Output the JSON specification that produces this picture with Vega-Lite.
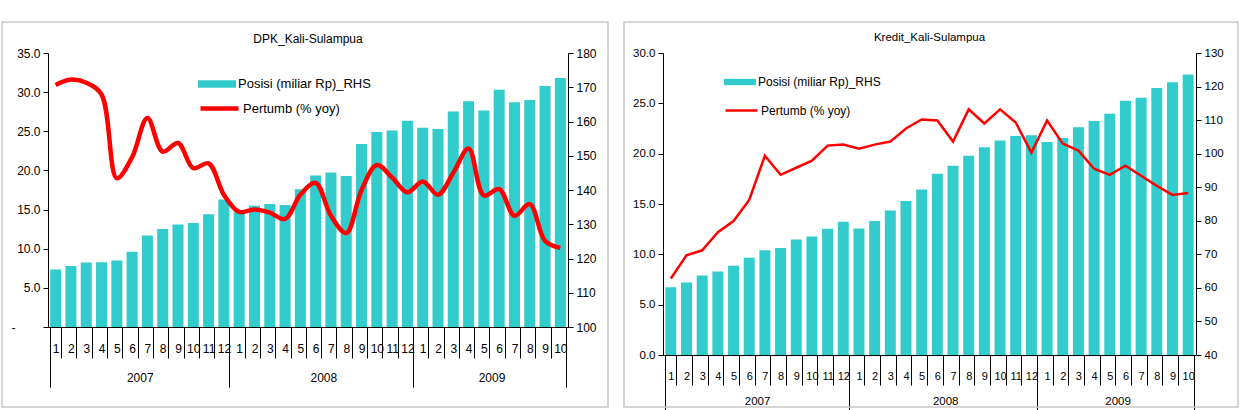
{
  "$schema": "https://vega.github.io/schema/vega-lite/v6.json",
  "background": "white",
  "padding": {"left": 2, "top": 22, "right": 5, "bottom": 0},
  "spacing": 15,
  "datasets": {
    "dpk": [
      {"m": "2007-01", "posisi": 116.8, "pertumb": 30.9},
      {"m": "2007-02", "posisi": 117.8, "pertumb": 31.6},
      {"m": "2007-03", "posisi": 118.8, "pertumb": 31.2},
      {"m": "2007-04", "posisi": 118.9, "pertumb": 29.7},
      {"m": "2007-05", "posisi": 119.4, "pertumb": 19.0},
      {"m": "2007-06", "posisi": 122.0, "pertumb": 21.7},
      {"m": "2007-07", "posisi": 126.7, "pertumb": 26.7},
      {"m": "2007-08", "posisi": 128.6, "pertumb": 22.4},
      {"m": "2007-09", "posisi": 129.9, "pertumb": 23.5},
      {"m": "2007-10", "posisi": 130.4, "pertumb": 20.3},
      {"m": "2007-11", "posisi": 132.9, "pertumb": 20.9},
      {"m": "2007-12", "posisi": 137.2, "pertumb": 16.9},
      {"m": "2008-01", "posisi": 133.8, "pertumb": 14.7},
      {"m": "2008-02", "posisi": 135.4, "pertumb": 15.0},
      {"m": "2008-03", "posisi": 135.9, "pertumb": 14.6},
      {"m": "2008-04", "posisi": 135.6, "pertumb": 13.8},
      {"m": "2008-05", "posisi": 140.2, "pertumb": 16.9},
      {"m": "2008-06", "posisi": 144.2, "pertumb": 18.4},
      {"m": "2008-07", "posisi": 145.1, "pertumb": 14.2},
      {"m": "2008-08", "posisi": 144.1, "pertumb": 12.0},
      {"m": "2008-09", "posisi": 153.4, "pertumb": 17.5},
      {"m": "2008-10", "posisi": 156.9, "pertumb": 20.7},
      {"m": "2008-11", "posisi": 157.4, "pertumb": 19.1},
      {"m": "2008-12", "posisi": 160.2, "pertumb": 17.2},
      {"m": "2009-01", "posisi": 158.2, "pertumb": 18.6},
      {"m": "2009-02", "posisi": 157.8, "pertumb": 16.9},
      {"m": "2009-03", "posisi": 162.9, "pertumb": 19.7},
      {"m": "2009-04", "posisi": 165.9, "pertumb": 22.8},
      {"m": "2009-05", "posisi": 163.2, "pertumb": 16.8},
      {"m": "2009-06", "posisi": 169.3, "pertumb": 17.6},
      {"m": "2009-07", "posisi": 165.6, "pertumb": 14.2},
      {"m": "2009-08", "posisi": 166.3, "pertumb": 15.7},
      {"m": "2009-09", "posisi": 170.4, "pertumb": 11.0},
      {"m": "2009-10", "posisi": 172.7, "pertumb": 10.1}
    ],
    "kredit": [
      {"m": "2007-01", "posisi": 60.2, "pertumb": 7.6},
      {"m": "2007-02", "posisi": 61.6, "pertumb": 9.9},
      {"m": "2007-03", "posisi": 63.7, "pertumb": 10.4},
      {"m": "2007-04", "posisi": 64.9, "pertumb": 12.2},
      {"m": "2007-05", "posisi": 66.6, "pertumb": 13.3},
      {"m": "2007-06", "posisi": 69.0, "pertumb": 15.4},
      {"m": "2007-07", "posisi": 71.2, "pertumb": 19.8},
      {"m": "2007-08", "posisi": 71.9, "pertumb": 17.9},
      {"m": "2007-09", "posisi": 74.4, "pertumb": 18.6},
      {"m": "2007-10", "posisi": 75.3, "pertumb": 19.3},
      {"m": "2007-11", "posisi": 77.6, "pertumb": 20.8},
      {"m": "2007-12", "posisi": 79.7, "pertumb": 20.9},
      {"m": "2008-01", "posisi": 77.7, "pertumb": 20.5},
      {"m": "2008-02", "posisi": 79.9, "pertumb": 20.9},
      {"m": "2008-03", "posisi": 83.1, "pertumb": 21.2},
      {"m": "2008-04", "posisi": 85.9, "pertumb": 22.5},
      {"m": "2008-05", "posisi": 89.3, "pertumb": 23.4},
      {"m": "2008-06", "posisi": 94.0, "pertumb": 23.3},
      {"m": "2008-07", "posisi": 96.4, "pertumb": 21.2},
      {"m": "2008-08", "posisi": 99.4, "pertumb": 24.4},
      {"m": "2008-09", "posisi": 101.9, "pertumb": 23.0},
      {"m": "2008-10", "posisi": 103.9, "pertumb": 24.4},
      {"m": "2008-11", "posisi": 105.3, "pertumb": 23.1},
      {"m": "2008-12", "posisi": 105.5, "pertumb": 20.1},
      {"m": "2009-01", "posisi": 103.5, "pertumb": 23.3},
      {"m": "2009-02", "posisi": 104.7, "pertumb": 21.0},
      {"m": "2009-03", "posisi": 107.9, "pertumb": 20.3},
      {"m": "2009-04", "posisi": 109.7, "pertumb": 18.5},
      {"m": "2009-05", "posisi": 111.9, "pertumb": 17.9},
      {"m": "2009-06", "posisi": 115.8, "pertumb": 18.8},
      {"m": "2009-07", "posisi": 116.7, "pertumb": 17.8},
      {"m": "2009-08", "posisi": 119.6, "pertumb": 16.8},
      {"m": "2009-09", "posisi": 121.3, "pertumb": 15.9},
      {"m": "2009-10", "posisi": 123.6, "pertumb": 16.1}
    ]
  },
  "resolve": {
    "scale": {"x": "independent", "y": "independent", "color": "independent", "fill": "independent"},
    "axis": {"x": "independent", "y": "independent"},
    "legend": {"color": "independent", "fill": "independent"}
  },
  "hconcat": [
    {
      "data": {"name": "dpk"},
      "width": 520,
      "height": 274,
      "title": {"text": "DPK_Kali-Sulampua", "fontSize": 12, "offset": 0, "dy": 24},
      "layer": [
        {
          "mark": {"type": "bar", "clip": true},
          "encoding": {
            "x": {
              "field": "m", "type": "ordinal",
              "scale": {"paddingInner": 0.28, "paddingOuter": 0.14},
              "axis": {
                "orient": "bottom", "title": null, "tickBand": "extent", "tickSize": 31, "labelPadding": -15,
                "labelAngle": 0, "labelOverlap": false, "labelFontSize": 12,
                "labelExpr": "datum.value ? toNumber(substring(datum.value, 5)) + '' : ''"
              }
            },
            "y": {
              "field": "posisi", "type": "quantitative",
              "scale": {"domain": [100, 180], "nice": false, "zero": false},
              "axis": {"orient": "right", "title": null, "values": [100, 110, 120, 130, 140, 150, 160, 170, 180], "tickSize": 5, "labelPadding": 3}
            },
            "color": {
              "datum": "Posisi (miliar Rp)_RHS",
              "scale": {"range": ["#33CCCC"]},
              "legend": {"orient": "none", "legendX": 150, "legendY": 12, "title": null, "symbolType": "M-1,-0.2H1V0.2H-1Z", "symbolSize": 1444, "symbolStrokeWidth": 0, "labelFontSize": 13, "labelOffset": 2}
            }
          }
        },
        {
          "mark": {"type": "line", "strokeWidth": 4.5, "interpolate": "catmull-rom"},
          "encoding": {
            "x": {
              "field": "m", "type": "ordinal",
              "axis": {
                "orient": "bottom", "title": null, "tickBand": "extent", "tickSize": 60, "domain": false,
                "labelPadding": -15, "labelOffset": 7.65, "labelAngle": 0, "labelOverlap": false, "labelFontSize": 12,
                "tickOpacity": {"condition": {"test": "!datum.value || indexof(['2007-12', '2008-12', '2009-10'], datum.value) >= 0", "value": 1}, "value": 0},
                "labelExpr": "datum.value == '2007-06' ? '2007' : datum.value == '2008-06' ? '2008' : datum.value == '2009-05' ? '2009' : ''"
              }
            },
            "y": {
              "field": "pertumb", "type": "quantitative",
              "scale": {"domain": [0, 35], "nice": false},
              "axis": {"orient": "left", "title": null, "values": [0, 5, 10, 15, 20, 25, 30, 35], "tickSize": 5,
                "labelPadding": {"condition": {"test": "datum.value == 0", "value": 28}, "value": 3},
                "labelExpr": "datum.value == 0 ? '-' : format(datum.value, '.1f')"}
            },
            "color": {
              "datum": "Pertumb (% yoy)",
              "scale": {"range": ["#FF0000"]},
              "legend": {"orient": "none", "legendX": 150, "legendY": 34, "title": null, "symbolType": "stroke", "symbolSize": 1444, "symbolStrokeWidth": 4.5, "labelFontSize": 13, "labelOffset": 2}
            }
          }
        },
        {
          "mark": {"type": "point", "opacity": 0},
          "encoding": {
            "x": {"field": "m", "type": "ordinal", "axis": null},
            "y": {"field": "posisi", "type": "quantitative", "axis": null},
            "fill": {
              "field": "posisi", "type": "quantitative",
              "scale": {"range": ["rgba(255,255,255,0)", "rgba(255,255,255,0)"]},
              "legend": {"orient": "none", "legendX": -46, "legendY": -31, "direction": "horizontal", "title": null, "padding": 0,
                "gradientLength": 606, "gradientThickness": 385, "gradientStrokeColor": "#c8c8c8", "gradientStrokeWidth": 1.5,
                "labelExpr": "''", "labelOpacity": 0, "tickCount": 2}
            }
          }
        }
      ],
      "resolve": {"scale": {"y": "independent", "color": "independent"}, "axis": {"x": "independent", "y": "independent"}, "legend": {"color": "independent"}}
    },
    {
      "data": {"name": "kredit"},
      "width": 533,
      "height": 302,
      "title": {"text": "Kredit_Kali-Sulampua", "fontSize": 11.5, "offset": 0, "dy": 21},
      "layer": [
        {
          "mark": {"type": "bar", "clip": true},
          "encoding": {
            "x": {
              "field": "m", "type": "ordinal",
              "scale": {"paddingInner": 0.3, "paddingOuter": 0.15},
              "axis": {
                "orient": "bottom", "title": null, "tickBand": "extent", "tickSize": 30, "labelPadding": -15,
                "labelAngle": 0, "labelOverlap": false, "labelFontSize": 11,
                "labelExpr": "datum.value ? toNumber(substring(datum.value, 5)) + '' : ''"
              }
            },
            "y": {
              "field": "posisi", "type": "quantitative",
              "scale": {"domain": [40, 130], "nice": false, "zero": false},
              "axis": {"orient": "right", "title": null, "values": [40, 50, 60, 70, 80, 90, 100, 110, 120, 130], "tickSize": 5, "labelPadding": 3, "labelFontSize": 11.5}
            },
            "color": {
              "datum": "Posisi (miliar Rp)_RHS",
              "scale": {"range": ["#33CCCC"]},
              "legend": {"orient": "none", "legendX": 61, "legendY": 13, "title": null, "symbolType": "M-1,-0.2H1V0.2H-1Z", "symbolSize": 1024, "symbolStrokeWidth": 0, "labelFontSize": 12, "labelOffset": 2}
            }
          }
        },
        {
          "mark": {"type": "line", "strokeWidth": 2.5},
          "encoding": {
            "x": {
              "field": "m", "type": "ordinal",
              "axis": {
                "orient": "bottom", "title": null, "tickBand": "extent", "tickSize": 60, "domain": false,
                "labelPadding": -20, "labelOffset": 7.84, "labelAngle": 0, "labelOverlap": false, "labelFontSize": 11.5,
                "tickOpacity": {"condition": {"test": "!datum.value || indexof(['2007-12', '2008-12', '2009-10'], datum.value) >= 0", "value": 1}, "value": 0},
                "labelExpr": "datum.value == '2007-06' ? '2007' : datum.value == '2008-06' ? '2008' : datum.value == '2009-05' ? '2009' : ''"
              }
            },
            "y": {
              "field": "pertumb", "type": "quantitative",
              "scale": {"domain": [0, 30], "nice": false},
              "axis": {"orient": "left", "title": null, "values": [0, 5, 10, 15, 20, 25, 30], "format": ".1f", "tickSize": 5, "labelPadding": 3, "labelFontSize": 11.5}
            },
            "color": {
              "datum": "Pertumb (% yoy)",
              "scale": {"range": ["#FF0000"]},
              "legend": {"orient": "none", "legendX": 61, "legendY": 40, "title": null, "symbolType": "stroke", "symbolSize": 1024, "symbolStrokeWidth": 2.5, "labelFontSize": 12, "labelOffset": 2}
            }
          }
        },
        {
          "mark": {"type": "point", "opacity": 0},
          "encoding": {
            "x": {"field": "m", "type": "ordinal", "axis": null},
            "y": {"field": "posisi", "type": "quantitative", "axis": null},
            "fill": {
              "field": "posisi", "type": "quantitative",
              "scale": {"range": ["rgba(255,255,255,0)", "rgba(255,255,255,0)"]},
              "legend": {"orient": "none", "legendX": -39, "legendY": -31, "direction": "horizontal", "title": null, "padding": 0,
                "gradientLength": 614, "gradientThickness": 385, "gradientStrokeColor": "#c8c8c8", "gradientStrokeWidth": 1.5,
                "labelExpr": "''", "labelOpacity": 0, "tickCount": 2}
            }
          }
        }
      ],
      "resolve": {"scale": {"y": "independent", "color": "independent"}, "axis": {"x": "independent", "y": "independent"}, "legend": {"color": "independent"}}
    }
  ],
  "config": {
    "font": "Liberation Sans",
    "view": {"stroke": null},
    "axis": {"grid": false, "labelColor": "#000", "domainColor": "#000", "tickColor": "#000", "labelFontSize": 12, "labelFont": "Liberation Sans", "domainWidth": 1, "tickWidth": 1},
    "legend": {"labelColor": "#000", "labelFont": "Liberation Sans"},
    "title": {"font": "Liberation Sans", "fontWeight": "normal", "color": "#000", "anchor": "middle"}
  }
}
